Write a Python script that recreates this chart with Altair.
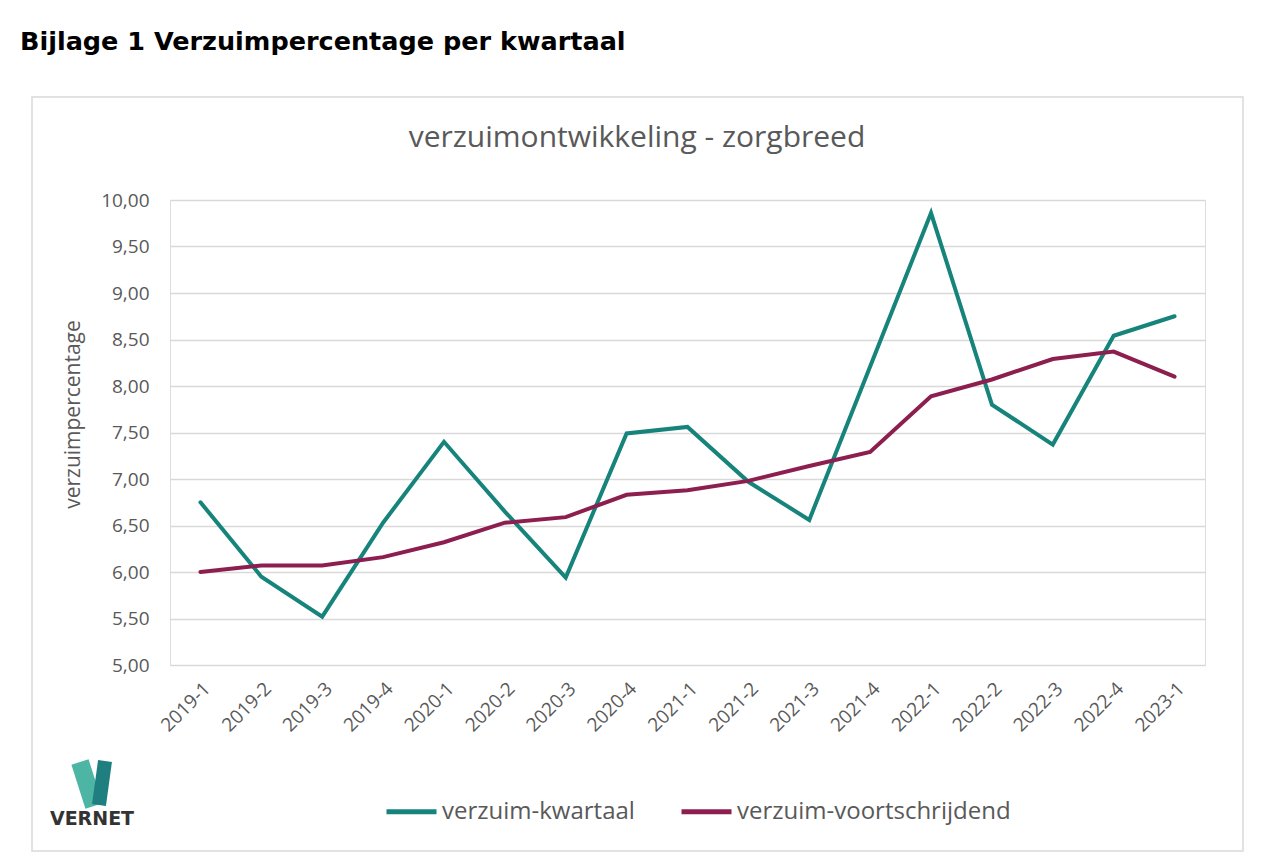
import altair as alt
import pandas as pd

quarters = ["2019-1", "2019-2", "2019-3", "2019-4", "2020-1", "2020-2", "2020-3", "2020-4",
            "2021-1", "2021-2", "2021-3", "2021-4", "2022-1", "2022-2", "2022-3", "2022-4", "2023-1"]
kwartaal = [6.75, 5.95, 5.52, 6.53, 7.40, 6.65, 5.94, 7.49,
            7.56, 6.97, 6.56, 8.21, 9.86, 7.80, 7.37, 8.54, 8.75]
voortschrijdend = [6.00, 6.07, 6.07, 6.16, 6.32, 6.53, 6.59, 6.83,
                   6.88, 6.98, 7.14, 7.29, 7.89, 8.07, 8.29, 8.37, 8.10]
series_names = ["verzuim-kwartaal", "verzuim-voortschrijdend"]
series_colors = ["#17847c", "#8c1f4f"]
y_ticks = [5.0, 5.5, 6.0, 6.5, 7.0, 7.5, 8.0, 8.5, 9.0, 9.5, 10.0]

df = pd.DataFrame({
    "kwartaal": quarters * 2,
    "waarde": kwartaal + voortschrijdend,
    "reeks": [series_names[0]] * len(quarters) + [series_names[1]] * len(quarters),
})

FONT = "Open Sans"
GRAY = "#595959"

lines = alt.Chart(df).mark_line(strokeWidth=4, strokeCap="round", strokeJoin="miter").encode(
    x=alt.X("kwartaal:O", sort=quarters, scale=alt.Scale(type="point", padding=0.5),
            axis=alt.Axis(title=None, labelAngle=-45, labelFontSize=19, labelColor=GRAY,
                          labelFont=FONT, labelPadding=14, ticks=False, domain=False, grid=False)),
    y=alt.Y("waarde:Q", scale=alt.Scale(domain=[5, 10], nice=False, zero=False),
            axis=alt.Axis(title="verzuimpercentage", values=y_ticks,
                          labelExpr="replace(format(datum.value, '.2f'), '.', ',')",
                          labelFontSize=19, labelColor=GRAY, labelFont=FONT, labelPadding=21,
                          ticks=False, domain=False, grid=True, gridColor="#d9d9d9", gridWidth=1.5,
                          titleFont=FONT, titleFontSize=21, titleColor=GRAY, titleFontWeight="normal",
                          titleX=-97, titleY=214, titleAlign="center", titleBaseline="middle")),
    color=alt.Color("reeks:N", scale=alt.Scale(domain=series_names, range=series_colors),
                    legend=alt.Legend(title=None, orient="none", direction="horizontal",
                                      legendX=214, legendY=584, symbolType="stroke",
                                      symbolSize=2500, symbolStrokeWidth=5,
                                      labelFont=FONT, labelFontSize=24, labelColor=GRAY,
                                      labelOffset=3, labelLimit=0, columnPadding=36)),
)

frame = alt.Chart(pd.DataFrame({"a": [0]})).mark_rect(
    fill="white", fillOpacity=0, stroke="#d9d9d9", strokeWidth=1.5).encode(
    x=alt.value(-138), x2=alt.value(1073), y=alt.value(-103), y2=alt.value(651))

main_title = alt.Chart(pd.DataFrame({"t": ["Bijlage 1 Verzuimpercentage per kwartaal"]})).mark_text(
    font="DejaVu Sans", fontWeight="bold", fontSize=25.5, align="left", baseline="alphabetic",
    color="#000000").encode(x=alt.value(-150), y=alt.value(-150), text="t:N")

chart_title = alt.Chart(pd.DataFrame({"t": ["verzuimontwikkeling - zorgbreed"]})).mark_text(
    font=FONT, fontSize=30, align="center", baseline="middle", color=GRAY).encode(
    x=alt.value(467), y=alt.value(-62), text="t:N")

logo_text = alt.Chart(pd.DataFrame({"t": ["VERNET"]})).mark_text(
    font="DejaVu Sans", fontWeight="bold", fontSize=19, align="center", baseline="middle",
    color="#333333").encode(x=alt.value(-78), y=alt.value(619), text="t:N")

logo_left = alt.Chart(pd.DataFrame({"a": [0]})).mark_rule(
    strokeWidth=18, strokeCap="butt", color="#4cb5a3").encode(
    x=alt.value(-90), x2=alt.value(-76), y=alt.value(562), y2=alt.value(606))
logo_right = alt.Chart(pd.DataFrame({"a": [0]})).mark_rule(
    strokeWidth=14, strokeCap="butt", color="#1f7e80").encode(
    x=alt.value(-65), x2=alt.value(-71), y=alt.value(561), y2=alt.value(605))

chart = alt.layer(frame, lines, main_title, chart_title, logo_left, logo_right, logo_text).properties(
    width=1035, height=465,
    autosize=alt.AutoSizeParams(type="none"),
    padding={"left": 162, "top": 192, "right": 67, "bottom": 194},
).configure_view(fill="#f3f7fa", stroke=None).configure(background="white")

chart.save("out.html", embed_options={"renderer": "svg", "actions": False})
